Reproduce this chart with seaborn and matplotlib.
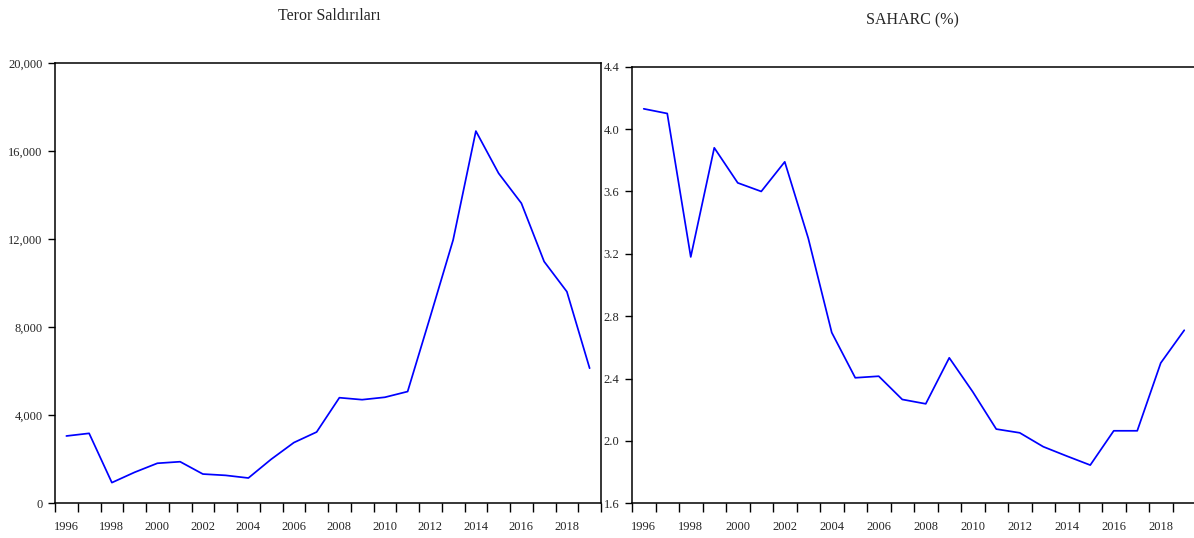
import numpy as np
import pandas as pd
import matplotlib
matplotlib.use("Agg")
import matplotlib.pyplot as plt
from matplotlib.ticker import FuncFormatter
import seaborn as sns

# Veriler (grafikten okunan tahmini değerler)
years = list(range(1996, 2020))
teror = [3060, 3180, 940, 1410, 1820, 1890, 1330, 1270, 1150, 2000, 2760, 3240,
         4800, 4710, 4820, 5080, 8500, 11970, 16920, 15000, 13640, 10990, 9620, 6140]
saharc = [4.13, 4.10, 3.18, 3.88, 3.655, 3.60, 3.79, 3.30, 2.695, 2.405, 2.415, 2.266,
          2.238, 2.533, 2.315, 2.076, 2.052, 1.963, 1.903, 1.845, 2.065, 2.065, 2.50, 2.71]

left_title = "Teror Saldırıları"
right_title = "SAHARC (%)"
left_yticks = [0, 4000, 8000, 12000, 16000, 20000]
right_yticks = [1.6, 2.0, 2.4, 2.8, 3.2, 3.6, 4.0, 4.4]
year_labels = list(range(1996, 2019, 2))

df = pd.DataFrame({"year": years, "teror": teror, "saharc": saharc})

sns.set_style("white")
plt.rcParams['font.family'] = ['Liberation Serif', 'DejaVu Serif']

fig = plt.figure(figsize=(11.94, 5.38), dpi=100)
ax1 = fig.add_axes([55 / 1194, 0.0645, (601 - 55) / 1194, 0.8823 - 0.0645])
# sağ panel görüntünün kenarından biraz taşıyor
ax2 = fig.add_axes([632 / 1194, 0.0645, (1196 - 632) / 1194, 0.876 - 0.0645])


def style_axis(ax, col, title, yticks, fmt, title_pos):
    sns.lineplot(data=df, x="year", y=col, ax=ax, color="#0000FF", linewidth=1.25)
    ax.set_xlim(1995.5, 2019.5)
    ax.set_ylim(yticks[0], yticks[-1])
    ax.set_yticks(yticks)
    ax.yaxis.set_major_formatter(FuncFormatter(fmt))
    ax.set_xticks(year_labels)
    ax.set_xticklabels([str(y) for y in year_labels])
    ax.set_xticks(np.arange(1995.5, 2020, 1.0), minor=True)
    ax.tick_params(axis="x", which="major", length=0, pad=13, labelsize=9)
    ax.tick_params(axis="x", which="minor", direction="out", length=6.5, width=1.0,
                   color="black", bottom=True)
    ax.tick_params(axis="y", direction="out", length=5, width=1.0, pad=4,
                   labelsize=9, left=True, color="black")
    ax.set_xlabel("")
    ax.set_ylabel("")
    for s in ax.spines.values():
        s.set_visible(True)
        s.set_color("black")
        s.set_linewidth(1.1)
    fig.text(title_pos[0], title_pos[1], title, ha="center", va="center", fontsize=11.5)


style_axis(ax1, "teror", left_title, left_yticks, lambda v, p: f"{int(v):,}", (329 / 1194, 1 - 16 / 538))
style_axis(ax2, "saharc", right_title, right_yticks, lambda v, p: f"{v:.1f}", (912 / 1194, 1 - 20 / 538))

fig.savefig("out.png", dpi=100)
